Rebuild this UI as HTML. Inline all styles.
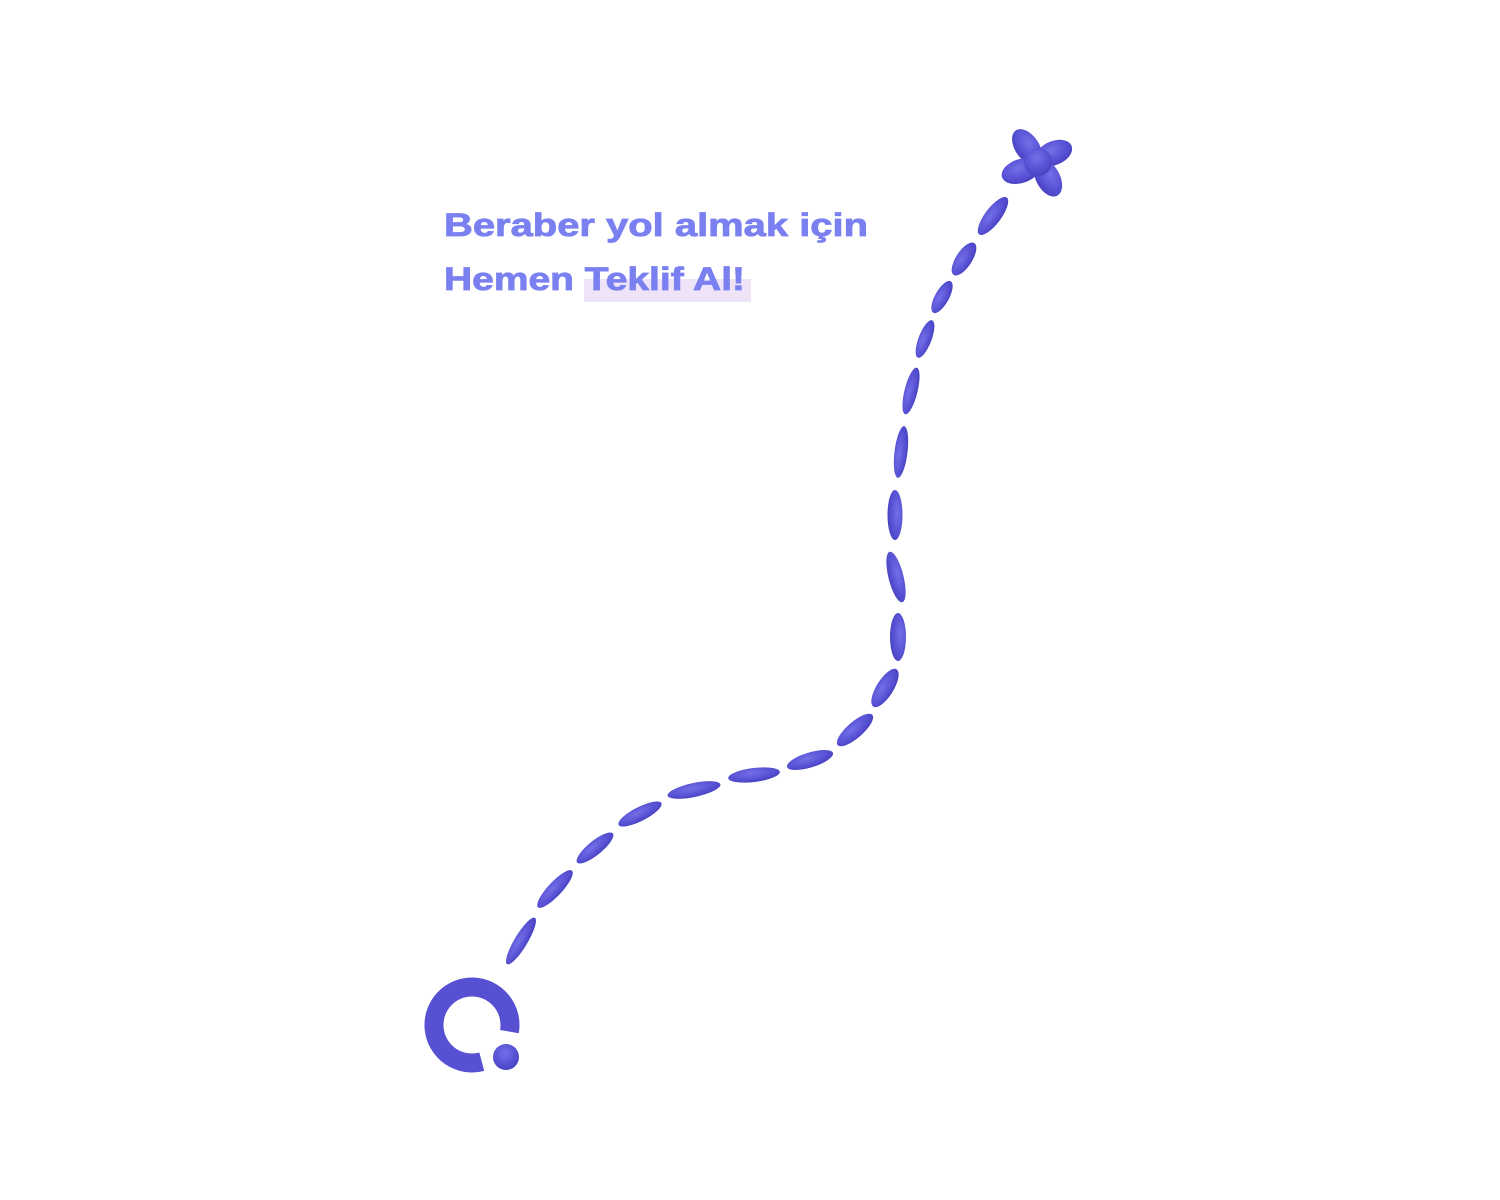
<!DOCTYPE html>
<html><head><meta charset="utf-8"><style>
html,body{margin:0;padding:0;background:#fff;width:1500px;height:1200px;overflow:hidden}
</style></head><body>
<svg width="1500" height="1200" viewBox="0 0 1500 1200" xmlns="http://www.w3.org/2000/svg">
<defs>
<radialGradient id="g" cx="45%" cy="35%" r="70%">
<stop offset="0" stop-color="#7470e6"/><stop offset="0.6" stop-color="#5751d4"/><stop offset="1" stop-color="#4540bd"/>
</radialGradient>
</defs>
<rect x="584" y="279" width="167" height="23" fill="#efe3f8"/>
<g font-family="'Liberation Sans', sans-serif" font-weight="bold" font-size="32" fill="#7a80f0" stroke="#7a80f0" stroke-width="0.8">
<text x="444" y="236" textLength="424" lengthAdjust="spacingAndGlyphs">Beraber yol almak için</text>
<text x="444" y="290" textLength="301" lengthAdjust="spacingAndGlyphs">Hemen Teklif Al!</text>
</g>
<g fill="url(#g)">
<ellipse cx="521" cy="941" rx="27" ry="6.5" transform="rotate(-59 521 941)"/>
<ellipse cx="555" cy="889" rx="25" ry="7" transform="rotate(-47 555 889)"/>
<ellipse cx="595" cy="848" rx="23" ry="7" transform="rotate(-39 595 848)"/>
<ellipse cx="640" cy="814" rx="24" ry="7" transform="rotate(-27 640 814)"/>
<ellipse cx="694" cy="790" rx="27" ry="7" transform="rotate(-12 694 790)"/>
<ellipse cx="754" cy="775" rx="26" ry="7" transform="rotate(-7 754 775)"/>
<ellipse cx="810" cy="760" rx="24" ry="7.5" transform="rotate(-17 810 760)"/>
<ellipse cx="855" cy="730" rx="23" ry="8" transform="rotate(-41 855 730)"/>
<ellipse cx="885" cy="688" rx="22" ry="8.5" transform="rotate(-58 885 688)"/>
<ellipse cx="898" cy="637" rx="24" ry="8" transform="rotate(90 898 637)"/>
<ellipse cx="896" cy="577" rx="26" ry="7.5" transform="rotate(76 896 577)"/>
<ellipse cx="895" cy="515" rx="25" ry="7.5" transform="rotate(90 895 515)"/>
<ellipse cx="901" cy="452" rx="26" ry="6.5" transform="rotate(-83 901 452)"/>
<ellipse cx="911" cy="391" rx="24" ry="6.5" transform="rotate(-76 911 391)"/>
<ellipse cx="925" cy="339" rx="20" ry="6.5" transform="rotate(-69 925 339)"/>
<ellipse cx="942" cy="297" rx="18" ry="7" transform="rotate(-61 942 297)"/>
<ellipse cx="964" cy="259" rx="19" ry="8" transform="rotate(-57 964 259)"/>
<ellipse cx="993" cy="216" rx="23" ry="8" transform="rotate(-53 993 216)"/>
<ellipse cx="1027" cy="147" rx="20" ry="12" transform="rotate(56 1027 147)"/>
<ellipse cx="1054" cy="153" rx="19" ry="12" transform="rotate(-22 1054 153)"/>
<ellipse cx="1048" cy="178" rx="20" ry="12" transform="rotate(62 1048 178)"/>
<ellipse cx="1021" cy="171" rx="20" ry="12" transform="rotate(-18 1021 171)"/>
<circle cx="1038" cy="162" r="14"/>
<circle cx="506" cy="1057" r="13"/>
</g>
<path d="M481.8 1061.7 A38 38 0 1 1 509.4 1031.6" fill="none" stroke="#5651d2" stroke-width="19"/>
</svg>
</body></html>
